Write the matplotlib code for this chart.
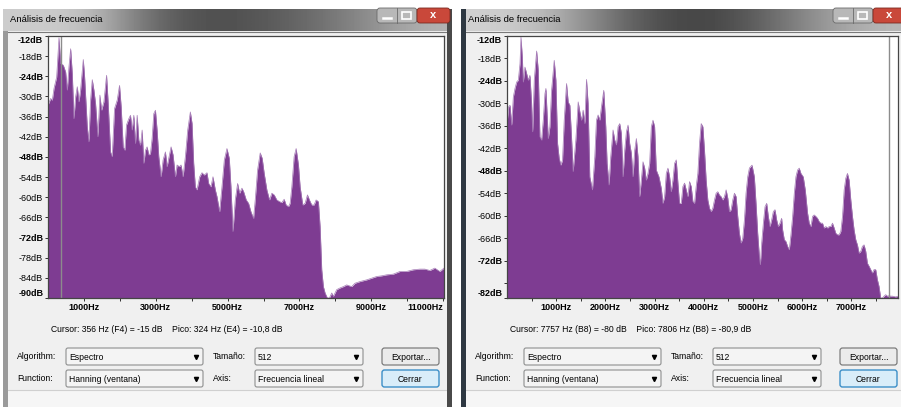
import numpy as np
import matplotlib.pyplot as plt
from matplotlib.patches import Rectangle, FancyBboxPatch

plt.rcParams['font.family'] = ['Liberation Sans', 'DejaVu Sans']

W, H = 901, 407

# espectro de la ventana izquierda (Hz, dB)
left_freq = [0, 74, 120, 167, 241, 306, 352, 426, 491, 537, 583, 630, 676, 722, 769, 815, 861, 907,
             982, 1019, 1093, 1139, 1185, 1232, 1278, 1324, 1389, 1445, 1491, 1556, 1630, 1676, 1741,
             1787, 1852, 1926, 1991, 2037, 2093, 2139, 2185, 2250, 2296, 2343, 2389, 2435, 2482, 2528,
             2574, 2621, 2667, 2713, 2759, 2806, 2852, 2898, 2945, 2991, 3037, 3084, 3148, 3204, 3269,
             3315, 3361, 3426, 3482, 3547, 3593, 3658, 3704, 3760, 3824, 3889, 3963, 4010, 4056, 4102,
             4148, 4223, 4287, 4352, 4426, 4473, 4537, 4593, 4658, 4704, 4778, 4843, 4908, 4982, 5047,
             5093, 5149, 5213, 5278, 5334, 5399, 5445, 5519, 5584, 5649, 5723, 5769, 5834, 5908, 5963,
             6019, 6093, 6167, 6232, 6297, 6371, 6445, 6510, 6575, 6630, 6695, 6741, 6788, 6852, 6908,
             6973, 7019, 7093, 7158, 7223, 7278, 7343, 7408, 7464, 7528, 7575, 7621, 7667, 7714, 7778,
             7834, 7899, 7945, 8038, 8130, 8223, 8315, 8454, 8547, 8686, 8871, 9010, 9149, 9288, 9427,
             9612, 9797, 9982, 10167, 10353, 10492, 10630, 10769, 10908, 11025]
left_db = [-32.6, -30.6, -31.1, -27.6, -24.2, -12.5, -20.2, -20.7, -22.7, -28.1, -21.2, -15.8, -23.2,
           -36.6, -30.1, -27.1, -31.6, -28.1, -19.0, -24.2, -39.0, -43.5, -31.1, -25.0, -28.1, -32.1,
           -42.0, -29.6, -34.1, -31.6, -23.7, -32.1, -46.5, -47.9, -33.6, -31.1, -26.7, -33.1, -45.0,
           -46.0, -38.5, -36.6, -35.6, -40.0, -35.6, -44.0, -35.6, -43.0, -44.5, -40.0, -49.9, -46.0,
           -45.0, -47.4, -47.0, -42.5, -35.1, -34.1, -40.0, -47.9, -53.9, -48.9, -46.5, -50.9, -48.4,
           -45.0, -47.4, -53.9, -50.4, -50.9, -50.4, -53.9, -47.9, -40.0, -34.6, -38.0, -49.9, -56.9,
           -57.8, -53.9, -52.7, -53.4, -52.7, -55.9, -56.9, -53.9, -57.8, -59.8, -64.3, -56.9, -48.9,
           -45.5, -48.4, -56.9, -70.2, -60.8, -55.9, -58.8, -57.3, -58.3, -60.8, -61.8, -64.3, -66.3,
           -60.8, -51.9, -46.8, -48.4, -52.9, -57.8, -60.8, -58.8, -59.3, -60.8, -61.3, -61.6, -60.6,
           -62.3, -62.8, -61.8, -56.9, -47.9, -45.5, -50.4, -56.9, -62.3, -61.8, -59.3, -60.8, -62.3,
           -62.3, -60.8, -61.3, -68.7, -81.6, -86.6, -88.5, -90.0, -90.0, -88.5, -89.5, -87.5, -87.0,
           -86.6, -86.1, -86.6, -85.6, -85.1, -84.6, -84.1, -83.6, -83.4, -83.1, -82.9, -82.1, -82.1,
           -81.6, -81.4, -81.4, -81.8, -81.1, -82.1, -81.1]

# espectro de la ventana derecha (Hz, dB)
right_freq = [7, 34, 61, 95, 128, 162, 196, 230, 264, 284, 311, 331, 365, 399, 433, 466, 500, 521, 554,
              602, 635, 669, 703, 737, 771, 791, 818, 838, 872, 906, 960, 994, 1028, 1061, 1095, 1129,
              1163, 1210, 1244, 1278, 1311, 1345, 1399, 1447, 1480, 1514, 1548, 1582, 1616, 1649, 1683,
              1737, 1785, 1818, 1852, 1886, 1920, 1967, 2008, 2035, 2075, 2109, 2156, 2190, 2224, 2258,
              2292, 2325, 2359, 2393, 2427, 2461, 2494, 2528, 2562, 2596, 2630, 2663, 2697, 2731, 2765,
              2799, 2832, 2866, 2900, 2934, 2968, 3001, 3035, 3089, 3137, 3170, 3204, 3238, 3272, 3306,
              3339, 3373, 3407, 3441, 3475, 3508, 3542, 3576, 3610, 3644, 3677, 3711, 3745, 3779, 3813,
              3846, 3880, 3914, 3948, 3982, 4015, 4049, 4083, 4117, 4151, 4184, 4218, 4252, 4286, 4320,
              4353, 4387, 4421, 4455, 4489, 4522, 4556, 4590, 4624, 4658, 4691, 4725, 4759, 4793, 4827,
              4860, 4894, 4928, 4982, 5029, 5063, 5097, 5131, 5151, 5178, 5212, 5246, 5280, 5313, 5347,
              5381, 5415, 5449, 5482, 5516, 5550, 5584, 5604, 5638, 5672, 5705, 5739, 5773, 5807, 5841,
              5874, 5908, 5942, 5976, 6023, 6064, 6111, 6145, 6179, 6212, 6246, 6280, 6314, 6348, 6381,
              6415, 6449, 6483, 6517, 6550, 6584, 6618, 6652, 6686, 6719, 6753, 6787, 6821, 6855, 6888,
              6922, 6956, 6990, 7024, 7057, 7091, 7125, 7159, 7193, 7226, 7260, 7294, 7328, 7362, 7395,
              7429, 7463, 7497, 7531, 7564, 7598, 7632, 7666, 7700, 7733, 7767, 7801, 7835, 7902, 7970]
right_db = [-34.5, -30.9, -30.5, -35.8, -28.3, -26.0, -24.3, -23.8, -19.4, -12.3, -17.6, -24.3, -20.3,
            -22.0, -23.8, -22.5, -30.0, -37.6, -23.8, -16.0, -21.1, -38.9, -39.8, -34.5, -27.4, -26.0,
            -33.6, -39.4, -36.2, -26.5, -18.5, -23.8, -40.7, -44.7, -46.5, -45.1, -34.5, -24.7, -29.6,
            -30.5, -38.9, -48.2, -39.8, -29.6, -32.2, -34.5, -31.8, -35.4, -23.6, -30.0, -49.6, -53.1,
            -44.2, -34.5, -33.1, -34.5, -30.9, -26.5, -36.2, -46.0, -51.8, -44.2, -37.1, -39.8, -41.1,
            -36.2, -35.4, -38.0, -49.6, -42.5, -37.6, -35.8, -40.7, -43.3, -49.6, -42.5, -39.4, -44.2,
            -54.9, -50.5, -45.6, -47.3, -50.5, -48.7, -46.0, -36.2, -34.5, -36.2, -47.8, -49.6, -52.7,
            -56.7, -54.9, -48.7, -47.3, -49.6, -53.6, -50.5, -46.0, -45.1, -51.3, -56.7, -56.7, -52.2,
            -51.3, -53.1, -54.9, -50.9, -52.2, -56.2, -56.7, -52.2, -48.7, -40.7, -35.4, -36.2, -42.5,
            -50.5, -55.8, -58.0, -58.9, -58.0, -55.8, -54.0, -53.6, -54.5, -54.9, -55.8, -54.9, -53.1,
            -55.3, -58.9, -58.4, -55.8, -54.0, -54.9, -60.2, -64.7, -67.3, -66.0, -61.1, -54.0, -49.6,
            -47.3, -46.5, -49.6, -56.7, -64.7, -70.9, -73.1, -67.3, -62.0, -57.6, -56.7, -60.2, -62.9,
            -61.1, -58.9, -58.4, -61.1, -62.9, -62.0, -60.7, -63.8, -66.4, -66.9, -68.2, -69.1, -65.1,
            -60.2, -54.0, -49.6, -47.8, -47.3, -48.7, -49.6, -53.1, -59.3, -62.0, -62.9, -60.2, -59.8,
            -60.2, -60.7, -61.6, -62.0, -62.0, -63.3, -62.9, -63.3, -62.9, -62.9, -62.0, -63.3, -64.7,
            -65.1, -65.1, -64.2, -60.2, -53.1, -50.0, -48.7, -50.5, -55.8, -60.2, -63.8, -66.4, -67.8,
            -70.0, -69.5, -68.2, -67.8, -69.5, -72.7, -73.5, -74.4, -75.3, -74.4, -74.4, -77.1, -78.9,
            -82.0, -82.0, -81.5, -81.1, -81.5, -81.4, -81.5, -81.5, -81.7, -81.5]

left_yticks = [-90, -84, -78, -72, -66, -60, -54, -48, -42, -36, -30, -24, -18, -12]
right_yticks = [-82, -78, -72, -66, -60, -54, -48, -42, -36, -30, -24, -18, -12]
right_ylabels = ['-82dB', '', '-72dB', '-66dB', '-60dB', '-54dB', '-48dB', '-42dB', '-36dB',
                 '-30dB', '-24dB', '-18dB', '-12dB']
bold_db = [-12, -24, -48, -72, -90, -82]
left_xticks = [1000, 2000, 3000, 4000, 5000, 6000, 7000, 8000, 9000, 10000, 11000]
left_xlabels = ['1000Hz', '', '3000Hz', '', '5000Hz', '', '7000Hz', '', '9000Hz', '', '11000Hz']
right_xticks = [500, 1000, 1500, 2000, 2500, 3000, 3500, 4000, 4500, 5000, 5500, 6000, 6500, 7000, 7500]
right_xlabels = ['', '1000Hz', '', '2000Hz', '', '3000Hz', '', '4000Hz', '', '5000Hz', '',
                 '6000Hz', '', '7000Hz', '']

left_cursor = 356
right_cursor = 7757
left_info = "Cursor: 356 Hz (F4) = -15 dB    Pico: 324 Hz (E4) = -10,8 dB"
right_info = "Cursor: 7757 Hz (B8) = -80 dB    Pico: 7806 Hz (B8) = -80,9 dB"

PURPLE = '#7e3c92'

fig = plt.figure(figsize=(W / 100, H / 100), dpi=100, facecolor='white')
bg = fig.add_axes([0, 0, 1, 1])
bg.set_xlim(0, W)
bg.set_ylim(H, 0)
bg.axis('off')


def px_rect(x0, y0, x1, y1):
    return [x0 / W, 1 - y1 / H, (x1 - x0) / W, (y1 - y0) / H]


def combo(x0, x1, y0, y1, text):
    bg.add_patch(FancyBboxPatch((x0, y0), x1 - x0, y1 - y0, boxstyle='round,pad=0,rounding_size=2',
                                fc='#f4f4f4', ec='#8e8f8f', lw=0.8))
    bg.text(x0 + 3, (y0 + y1) / 2 + 0.5, text, fontsize=6.2, va='center', ha='left')
    bg.plot([x1 - 7], [(y0 + y1) / 2], marker='v', ms=3, color='black')


def button(x0, x1, y0, y1, text, active=False):
    fc = '#d9edf9' if active else '#ebebeb'
    ec = '#3c8fc8' if active else '#707070'
    bg.add_patch(FancyBboxPatch((x0, y0), x1 - x0, y1 - y0, boxstyle='round,pad=0,rounding_size=2.5',
                                fc=fc, ec=ec, lw=1.0 if active else 0.8))
    bg.text((x0 + x1) / 2, (y0 + y1) / 2 + 0.5, text, fontsize=6.2, va='center', ha='center')


def window(ox, x_end, title_grad):
    # marco y barra de titulo
    bg.add_patch(Rectangle((ox + 3, 9), x_end - ox - 3, H - 9, fc='#9a9a9a', ec='none'))
    grad = np.array([title_grad])
    bg.imshow(grad, cmap='gray', vmin=0, vmax=1, aspect='auto', interpolation='bicubic',
              extent=(ox + 3, x_end, 31, 9), zorder=1)
    bg.text(ox + 10, 20, 'Análisis de frecuencia', fontsize=6.8, va='center', ha='left', zorder=3)
    # botones de ventana
    bx = x_end - 75 if x_end < 460 else ox + 375
    bg.add_patch(FancyBboxPatch((bx, 8), 40, 15, boxstyle='round,pad=0,rounding_size=3',
                                fc='#b8b8b8', ec='#6a6a6a', lw=0.6, zorder=3))
    bg.add_patch(FancyBboxPatch((bx + 40, 8), 33, 15, boxstyle='round,pad=0,rounding_size=3',
                                fc='#c9483a', ec='#7a2a20', lw=0.6, zorder=3))
    bg.plot([bx + 20, bx + 20], [8, 23], color='#6a6a6a', lw=0.6, zorder=4)
    bg.plot([bx + 6, bx + 14], [18, 18], color='white', lw=1.8, zorder=4)
    bg.add_patch(Rectangle((bx + 25, 12), 9, 7, fc='none', ec='white', lw=1.2, zorder=4))
    bg.text(bx + 56, 15.5, 'x', fontsize=8, fontweight='bold', color='white',
            ha='center', va='center', zorder=4)
    # cuerpo del dialogo
    bg.add_patch(Rectangle((ox + 8, 31), x_end - ox - 13, H - 31, fc='#f0f0f0', ec='none', zorder=1))
    bg.plot([ox + 8, x_end - 5], [31.5, 31.5], color='#7a7a7a', lw=0.8, zorder=2)
    bg.add_patch(Rectangle((ox + 8, 390), x_end - ox - 13, H - 390, fc='#f6f6f6', ec='none', zorder=2))
    bg.plot([ox + 8, x_end - 5], [390, 390], color='#d0d0d0', lw=0.8, zorder=2)
    # controles
    bg.text(ox + 17, 356.5, 'Algorithm:', fontsize=6.2, va='center', zorder=3)
    bg.text(ox + 17, 378.5, 'Function:', fontsize=6.2, va='center', zorder=3)
    bg.text(ox + 213, 356.5, 'Tamaño:', fontsize=6.2, va='center', zorder=3)
    bg.text(ox + 213, 378.5, 'Axis:', fontsize=6.2, va='center', zorder=3)
    combo(ox + 66, ox + 203, 348, 365, 'Espectro')
    combo(ox + 66, ox + 203, 370, 387, 'Hanning (ventana)')
    combo(ox + 255, ox + 363, 348, 365, '512')
    combo(ox + 255, ox + 363, 370, 387, 'Frecuencia lineal')
    button(ox + 382, ox + 439, 348, 365, 'Exportar...')
    button(ox + 382, ox + 439, 370, 387, 'Cerrar', active=True)


window(0, 452, [0.80, 0.78, 0.45, 0.30, 0.33, 0.42, 0.55, 0.70])
bg.add_patch(Rectangle((447, 9), 5, H - 9, fc='#4a4a4a', ec='none', zorder=2))
window(458, W + 6, [0.82, 0.74, 0.50, 0.30, 0.26, 0.40, 0.60, 0.72])
bg.add_patch(Rectangle((461, 9), 5, H - 9, fc='#2e3842', ec='none', zorder=2))
bg.text(51, 330, left_info, fontsize=6.2, va='center', ha='left', zorder=3)
bg.text(510, 330, right_info, fontsize=6.2, va='center', ha='left', zorder=3)


def spectrum(rect, freq, db, xmax, ymin, yticks, ylabels, xticks, xlabels, cursor):
    ax = fig.add_axes(px_rect(*rect))
    ax.set_facecolor('white')
    ax.fill_between(freq, db, ymin, color=PURPLE, lw=0)
    ax.plot(freq, db, color='#a57bb6', lw=0.5)
    ax.axvline(cursor, color='#8c8c8c', lw=1)
    ax.set_xlim(0, xmax)
    ax.set_ylim(ymin, -12)
    ax.set_yticks(yticks)
    ax.set_yticklabels(ylabels)
    ax.set_xticks(xticks)
    ax.set_xticklabels(xlabels)
    ax.tick_params(axis='both', direction='out', length=2.5, width=0.7, color='#303030', pad=1,
                   labelsize=6.5)
    for t, v in zip(ax.get_yticklabels(), yticks):
        if v in bold_db:
            t.set_fontweight('bold')
    ax.get_yticklabels()[0].set_va('bottom')
    ax.get_yticklabels()[-1].set_va('top')
    for t in ax.get_xticklabels():
        t.set_fontweight('bold')
    for s in ax.spines.values():
        s.set_color('#454545')
        s.set_linewidth(0.9)
    return ax


ax1 = spectrum((48, 36, 444, 298), left_freq, left_db, 11025, -90, left_yticks,
               [f'{v}dB' for v in left_yticks], left_xticks, left_xlabels, left_cursor)
ax1.get_xticklabels()[-1].set_ha('right')
ax2 = spectrum((507, 36, 898, 298), right_freq, right_db, 7950, -82, right_yticks,
               right_ylabels, right_xticks, right_xlabels, right_cursor)

fig.savefig('out.png', dpi=100)
